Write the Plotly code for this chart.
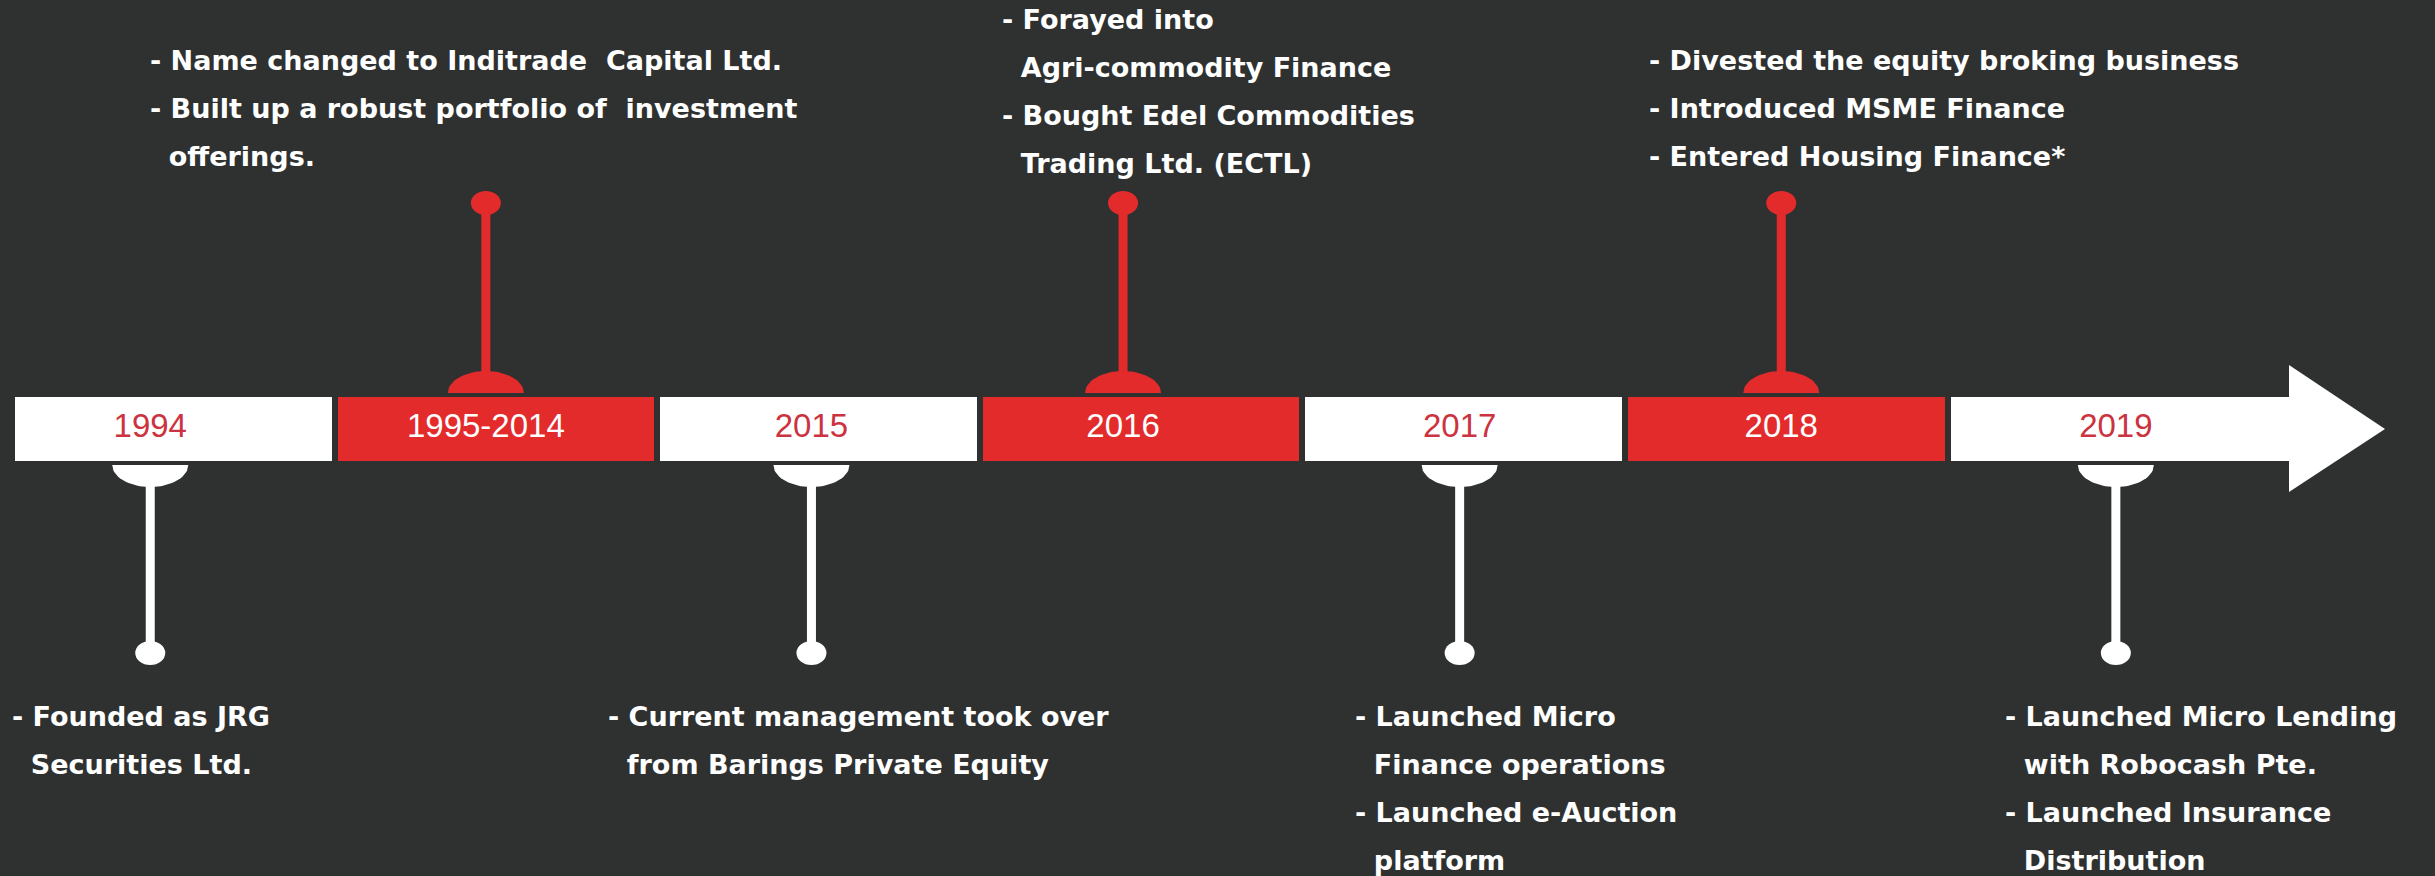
import numpy as np
import plotly.graph_objects as go

# timeline content
years = ["1994", "1995-2014", "2015", "2016", "2017", "2018", "2019"]
notes = [
    ["- Founded as JRG", "  Securities Ltd."],
    ["- Name changed to Inditrade  Capital Ltd.",
     "- Built up a robust portfolio of  investment",
     "  offerings."],
    ["- Current management took over", "  from Barings Private Equity"],
    ["- Forayed into", "  Agri-commodity Finance",
     "- Bought Edel Commodities", "  Trading Ltd. (ECTL)"],
    ["- Launched Micro", "  Finance operations",
     "- Launched e-Auction", "  platform"],
    ["- Divested the equity broking business",
     "- Introduced MSME Finance",
     "- Entered Housing Finance*"],
    ["- Launched Micro Lending", "  with Robocash Pte.",
     "- Launched Insurance", "  Distribution"],
]

# look / layout
BG = "#2f3131"
RED = "#e32b2c"
WHITE = "#ffffff"
YEAR_RED = "#cc3340"
W, H = 2435, 876
X0, PITCH, SEG_W = 15, 322.6, 316.5
BAR_TOP, BAR_BOT = 397, 461
HEAD_X0, HEAD_TIP, HEAD_TOP, HEAD_BOT = 2289, 2385, 365, 492
DOME_RX, DOME_H, DOME_GAP = 38, 22, 4
DOT_RX, DOT_RY = 15, 12
UP_DOT_Y, DOWN_DOT_Y = 203, 653
LINE_GAP = 48
UP_LAST_Y, TOP_Y, DOWN_FIRST_Y = 159, 22, 719
pin_nudge = [-23, -10, -7, -18, -4, -5, 7]     # pin offset from segment centre (px)
note_left = [12, 150, 608, 1002, 1355, 1649, 2005]

n = len(years)
seg_col = [WHITE if i % 2 == 0 else RED for i in range(n)]
lbl_col = [YEAR_RED if i % 2 == 0 else WHITE for i in range(n)]
starts = [X0 + i * PITCH for i in range(n)]
widths = [SEG_W] * (n - 1) + [HEAD_X0 + 1 - starts[-1]]
pin_x = [s + SEG_W / 2 + d for s, d in zip(starts, pin_nudge)]
bar_mid = (BAR_TOP + BAR_BOT) / 2

fig = go.Figure()

# timeline bar segments
fig.add_trace(go.Bar(
    orientation="h", y=[bar_mid] * n, x=widths, base=starts,
    width=BAR_BOT - BAR_TOP, marker=dict(color=seg_col, line_width=0),
    hoverinfo="skip", showlegend=False,
))

# arrow head
fig.add_trace(go.Scatter(
    x=[HEAD_X0, HEAD_TIP, HEAD_X0, HEAD_X0],
    y=[HEAD_TOP, bar_mid, HEAD_BOT, HEAD_TOP],
    mode="lines", fill="toself", fillcolor=WHITE, line=dict(width=0, color=WHITE),
    hoverinfo="skip", showlegend=False,
))

shapes = []
t = np.linspace(0, np.pi, 40)
for i in range(n):
    up = i % 2 == 1
    c = seg_col[i]
    px = pin_x[i]
    if up:
        base = BAR_TOP - DOME_GAP
        dy = base - DOME_H * np.sin(t)
        stem_y = [base - DOME_H + 2, UP_DOT_Y]
        dot_y = UP_DOT_Y
    else:
        base = BAR_BOT + DOME_GAP
        dy = base + DOME_H * np.sin(t)
        stem_y = [base + DOME_H - 2, DOWN_DOT_Y]
        dot_y = DOWN_DOT_Y
    dx = px + DOME_RX * np.cos(t)
    fig.add_trace(go.Scatter(
        x=list(dx) + [dx[0]], y=list(dy) + [dy[0]], mode="lines", fill="toself",
        fillcolor=c, line=dict(width=0, color=c), hoverinfo="skip", showlegend=False,
    ))
    fig.add_trace(go.Scatter(
        x=[px, px], y=stem_y, mode="lines", line=dict(width=9, color=c),
        hoverinfo="skip", showlegend=False,
    ))
    shapes.append(dict(type="circle", xref="x", yref="y",
                       x0=px - DOT_RX, x1=px + DOT_RX,
                       y0=dot_y - DOT_RY, y1=dot_y + DOT_RY,
                       fillcolor=c, line_width=0, layer="above"))

    # note text
    lines = [ln.replace("  ", "\u00a0\u00a0") for ln in notes[i]]
    k = len(lines)
    if up:
        first = max(TOP_Y, UP_LAST_Y - (k - 1) * LINE_GAP)
    else:
        first = DOWN_FIRST_Y
    ys = [first + j * LINE_GAP for j in range(k)]
    fig.add_trace(go.Scatter(
        x=[note_left[i]] * k, y=ys, text=lines, mode="text",
        textposition="middle right",
        textfont=dict(family="DejaVu Sans", size=27, color=WHITE, weight="bold"),
        hoverinfo="skip", showlegend=False, cliponaxis=False,
    ))

# year labels
fig.add_trace(go.Scatter(
    x=pin_x, y=[bar_mid] * n, text=years, mode="text", textposition="middle center",
    textfont=dict(family="Liberation Sans, Arial", size=33, color=lbl_col),
    hoverinfo="skip", showlegend=False,
))

fig.update_layout(
    width=W, height=H, margin=dict(l=0, r=0, t=0, b=0),
    paper_bgcolor=BG, plot_bgcolor=BG, shapes=shapes,
    xaxis=dict(range=[0, W], visible=False, fixedrange=True),
    yaxis=dict(range=[H, 0], visible=False, fixedrange=True),
    bargap=0,
)

fig.write_html(
    "out.html",
    config={"displayModeBar": False},
    post_script="document.body.style.margin='0';document.body.style.background='%s';" % BG,
)
